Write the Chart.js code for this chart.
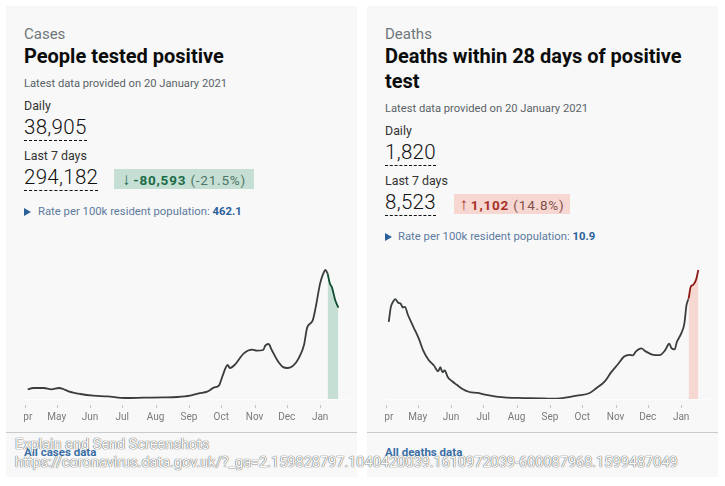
<!DOCTYPE html>
<html>
<head>
<meta charset="utf-8">
<title>Coronavirus dashboard</title>
<script src="https://cdn.jsdelivr.net/npm/chart.js@4"></script>
<style>
html, body { margin: 0; padding: 0; background: #fff; }
body { position: relative; width: 725px; height: 486px; overflow: hidden; font-family: Roboto, sans-serif; color: #0b0c0c; }
.card { position: absolute; top: 6px; width: 351px; height: 471px; background: #f8f8f8; }
.t { position: absolute; white-space: nowrap; line-height: 1; }
.caption { font-size: 15px; color: #6f777b; }
.title { font-size: 20px; font-weight: 700; line-height: 25px; }
.latest { font-size: 11.2px; color: #5a6367; }
.label { font-size: 12.4px; color: #333; }
.num { font-size: 20.5px; font-weight: 300; color: #111; border-bottom: 1px dashed #111; padding-bottom: 2px; letter-spacing: 0.3px; }
.badge { position: absolute; height: 20px; line-height: 20px; font-size: 13.5px; text-align: center; white-space: nowrap; letter-spacing: 0.8px; }
.badge .ar { font-size: 17px; font-weight: 700; margin-right: 2px; }
.badge.down { background: #c6dfd4; color: #4f7665; }
.badge.down b { color: #1b6b47; }
.badge.up { background: #f6d7d2; color: #85504b; }
.badge.up b { color: #a93226; }
.rate { font-size: 11.3px; color: #5d7ba0; }
.rate b { color: #2a6199; }
.arrow { position: absolute; width: 0; height: 0; border-left: 7px solid #2a6199; border-top: 4px solid transparent; border-bottom: 4px solid transparent; }
.rule { position: absolute; top: 432px; width: 351px; height: 1px; background: #c9cbcc; }
.link { font-size: 11.5px; font-weight: 700; color: #3a6ea5; }
.chartBox { position: absolute; top: 262px; width: 351px; height: 168px; clip-path: inset(0 0 0 18px); }
.shot { font-size: 14.5px; color: #fff; text-shadow: 0 0 1px #555, 0 0 1px #555; }
</style>
</head>
<body>
<div class="card" style="left:6px"></div>
<div class="card" style="left:367px"></div>

<div class="t caption" style="left:24px;top:27px">Cases</div>
<div class="t title" style="left:24px;top:44px">People tested positive</div>
<div class="t latest" style="left:24px;top:78px">Latest data provided on 20 January 2021</div>
<div class="t label" style="left:24px;top:100px">Daily</div>
<div class="t num" style="left:24px;top:117px">38,905</div>
<div class="t label" style="left:24px;top:150px">Last 7 days</div>
<div class="t num" style="left:24px;top:167px">294,182</div>
<div class="badge down" style="left:114px;top:169px;width:140px"><b><span class="ar">↓</span>-80,593</b> (-21.5%)</div>
<div class="arrow" style="left:24px;top:208px"></div>
<div class="t rate" style="left:38px;top:206px">Rate per 100k resident population: <b>462.1</b></div>
<div class="rule" style="left:6px"></div>
<div class="t link" style="left:24px;top:447px">All cases data</div>
<div class="chartBox" style="left:6px"><canvas id="casesChart"></canvas></div>

<div class="t caption" style="left:385px;top:27px">Deaths</div>
<div class="t title" style="left:385px;top:44px">Deaths within 28 days of positive<br>test</div>
<div class="t latest" style="left:385px;top:103px">Latest data provided on 20 January 2021</div>
<div class="t label" style="left:385px;top:125px">Daily</div>
<div class="t num" style="left:385px;top:142px">1,820</div>
<div class="t label" style="left:385px;top:175px">Last 7 days</div>
<div class="t num" style="left:385px;top:192px">8,523</div>
<div class="badge up" style="left:454px;top:194px;width:116px"><b><span class="ar">↑</span>1,102</b> (14.8%)</div>
<div class="arrow" style="left:385px;top:233px"></div>
<div class="t rate" style="left:398px;top:231px">Rate per 100k resident population: <b>10.9</b></div>
<div class="rule" style="left:367px"></div>
<div class="t link" style="left:385px;top:447px">All deaths data</div>
<div class="chartBox" style="left:367px"><canvas id="deathsChart"></canvas></div>

<div class="t shot" style="left:15px;top:438px">Explain and Send Screenshots</div>
<div class="t shot" style="left:15px;top:456px">https://coronavirus.data.gov.uk/?_ga=2.159828797.1040420039.1610972039-600087968.1599487049</div>

<script>
// x values are days since 1 April 2020
const monthLabels = ['Apr', 'May', 'Jun', 'Jul', 'Aug', 'Sep', 'Oct', 'Nov', 'Dec', 'Jan'];
const monthDays = [0, 30, 61, 91, 122, 153, 183, 214, 244, 275];

const casesDays = [3, 8, 18, 25, 32, 36, 41, 52, 64, 77, 94, 111, 129, 142, 154, 162, 170, 176, 181, 184, 189, 191, 196, 204, 212, 216, 222, 224, 227, 230, 235, 240, 245, 250, 255, 260, 263, 268, 271, 275, 278, 280, 282, 284, 286, 289, 292];
const casesValues = [4470, 5080, 5080, 4470, 5080, 4620, 3540, 2310, 1540, 1230, 460, 620, 770, 920, 1540, 2620, 3390, 5240, 6310, 10320, 15710, 14320, 16020, 21100, 22790, 22330, 22640, 24640, 25410, 22640, 18020, 14940, 14320, 15400, 18790, 24950, 33110, 36190, 42660, 53440, 58060, 59600, 58000, 53440, 51590, 45740, 42200];

const deathsDays = [3, 5, 7, 9, 12, 14, 16, 18, 21, 26, 31, 35, 40, 45, 49, 51, 53, 55, 58, 62, 66, 72, 78, 86, 94, 103, 113, 128, 144, 153, 165, 178, 190, 196, 204, 210, 216, 222, 227, 230, 233, 238, 242, 249, 255, 260, 264, 266, 269, 271, 275, 278, 280, 282, 284, 286, 289, 291];
const deathsValues = [727, 869, 916, 942, 907, 901, 863, 869, 790, 679, 569, 458, 370, 316, 262, 300, 253, 269, 205, 167, 136, 92, 66, 57, 38, 22, 13, 9, 6, 3, 9, 32, 57, 101, 167, 253, 325, 401, 417, 411, 449, 477, 449, 417, 414, 458, 521, 480, 468, 537, 616, 711, 885, 948, 1059, 1074, 1128, 1217];

const recentFrom = 282;

const toPoints = (days, values) => days.map((day, i) => ({ x: day, y: values[i] }));

// the site draws its short month ticks a little below the baseline
const monthTicks = {
    id: 'monthTicks',
    afterDraw: (chart) => {
        const xScale = chart.scales.x;
        const ctx = chart.ctx;
        ctx.save();
        ctx.strokeStyle = '#c4c4c4';
        ctx.lineWidth = 1;
        monthDays.forEach((day) => {
            const px = Math.round(xScale.getPixelForValue(day)) + 0.5;
            ctx.beginPath();
            ctx.moveTo(px, xScale.top + 6);
            ctx.lineTo(px, xScale.top + 9);
            ctx.stroke();
        });
        ctx.restore();
    },
};

const makeChart = (id, days, values, yMax, recentLine, recentFill) => {
    const all = toPoints(days, values);
    new Chart(document.getElementById(id), {
        type: 'line',
        data: {
            datasets: [
                {
                    data: all.filter((p) => p.x >= recentFrom),
                    borderColor: recentLine,
                    backgroundColor: recentFill,
                    borderWidth: 1.8,
                    pointRadius: 0,
                    cubicInterpolationMode: 'monotone',
                    fill: 'origin',
                    order: 1,
                },
                {
                    data: all.filter((p) => p.x <= recentFrom),
                    borderColor: '#3a3d3e',
                    borderWidth: 1.8,
                    pointRadius: 0,
                    cubicInterpolationMode: 'monotone',
                    fill: false,
                    order: 2,
                },
            ],
        },
        options: {
            responsive: false,
            animation: false,
            layout: { padding: { left: 18.5, right: 10, top: 0, bottom: 0 } },
            plugins: { legend: { display: false }, tooltip: { enabled: false } },
            scales: {
                x: {
                    type: 'linear',
                    min: 0,
                    max: 300,
                    afterBuildTicks: (scale) => {
                        scale.ticks = monthDays.map((day) => ({ value: day }));
                    },
                    afterFit: (scale) => {
                        scale.height = 31;
                    },
                    border: { color: '#fdfdfd' },
                    grid: { display: false },
                    ticks: {
                        autoSkip: false,
                        maxRotation: 0,
                        padding: 4,
                        color: '#7a7a7a',
                        font: { family: 'Roboto, sans-serif', size: 10 },
                        callback: (value) => monthLabels[monthDays.indexOf(value)],
                    },
                },
                y: { display: false, min: 0, max: yMax },
            },
        },
        plugins: [monthTicks],
    });
};

const sizeCanvas = (id) => {
    const canvas = document.getElementById(id);
    canvas.width = 351;
    canvas.height = 168;
};

sizeCanvas('casesChart');
sizeCanvas('deathsChart');
makeChart('casesChart', casesDays, casesValues, 63300, '#0f4f30', '#c6dfd4');
makeChart('deathsChart', deathsDays, deathsValues, 1292, '#8f1d14', '#f6d7d2');
</script>
</body>
</html>
